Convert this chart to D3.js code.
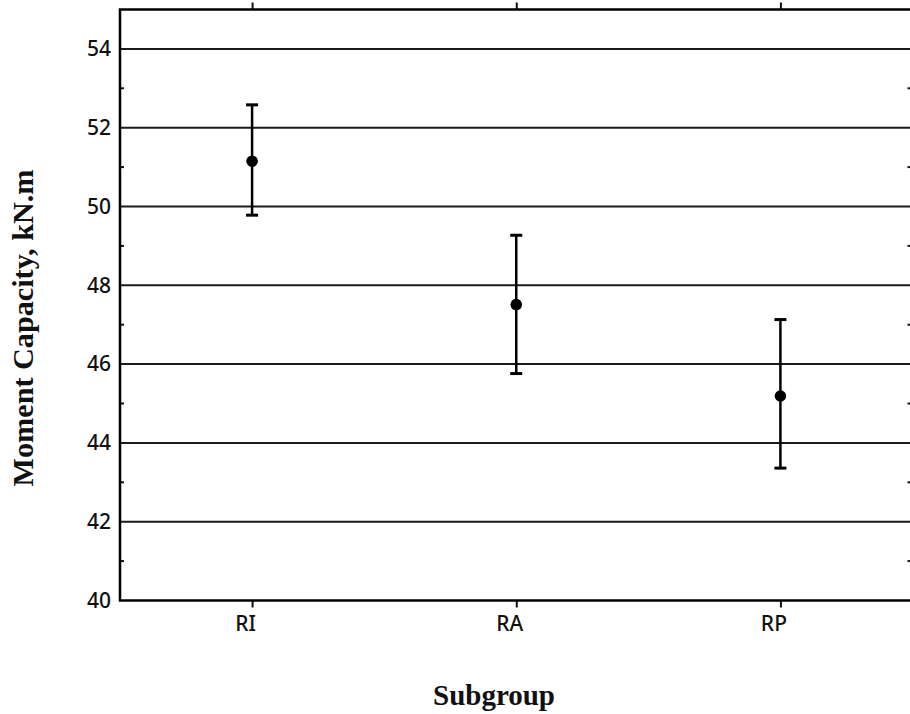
<!DOCTYPE html>
<html>
<head>
<meta charset="utf-8">
<script src="https://cdn.jsdelivr.net/npm/d3@7"></script>
<style>
  body { margin: 0; background: #fff; }
  svg { display: block; }
</style>
</head>
<body>
<script>
// data
var groups = ["RI", "RA", "RP"];
var means = [51.15, 47.51, 45.19];
var upper = [52.58, 49.27, 47.13];
var lower = [49.78, 45.76, 43.36];
var yTicks = [40, 42, 44, 46, 48, 50, 52, 54];
var yMinor = [41, 43, 45, 47, 49, 51, 53];

var width = 910;
var height = 714;
// plot frame (note: "top" is reserved on window, so use p* names)
var pLeft = 120, pRight = 912.5, pTop = 9.5, pBottom = 600.5;

var svg = d3.select("body").append("svg")
    .attr("width", width)
    .attr("height", height);

var x = d3.scalePoint()
    .domain(groups)
    .range([pLeft, pRight])
    .padding(0.5);

var y = d3.scaleLinear()
    .domain([40, 55])
    .range([pBottom, pTop]);

// grid lines
svg.append("g")
    .selectAll("line")
    .data(yTicks.filter(function(d){ return d > 40; }))
    .enter()
    .append("line")
    .attr("x1", pLeft)
    .attr("x2", pRight)
    .attr("y1", function(d){ return y(d); })
    .attr("y2", function(d){ return y(d); })
    .attr("stroke", "#1a1a1a")
    .attr("stroke-width", 2);

// left axis
var yAxis = d3.axisLeft(y)
    .tickValues(yTicks)
    .tickSize(0)
    .tickPadding(9);
var gy = svg.append("g")
    .attr("transform", "translate(" + pLeft + ",0)")
    .call(yAxis);
gy.select(".domain").remove();
gy.selectAll("text")
    .attr("font-family", "'Noto Sans', sans-serif")
    .attr("font-size", 21)
    .attr("font-weight", 500)
    .attr("fill", "#111");

// minor ticks inside, left and right
svg.append("g")
    .selectAll("line")
    .data(yMinor)
    .enter()
    .append("line")
    .attr("x1", pLeft)
    .attr("x2", pLeft + 4)
    .attr("y1", function(d){ return y(d); })
    .attr("y2", function(d){ return y(d); })
    .attr("stroke", "#111")
    .attr("stroke-width", 2);
svg.append("g")
    .selectAll("line")
    .data(yMinor)
    .enter()
    .append("line")
    .attr("x1", pRight - 5)
    .attr("x2", pRight)
    .attr("y1", function(d){ return y(d); })
    .attr("y2", function(d){ return y(d); })
    .attr("stroke", "#111")
    .attr("stroke-width", 2);

// bottom axis
var xAxis = d3.axisBottom(x)
    .tickSize(7)
    .tickPadding(9);
var gx = svg.append("g")
    .attr("transform", "translate(0," + pBottom + ")")
    .call(xAxis);
gx.select(".domain").remove();
gx.selectAll("line").attr("stroke", "#111").attr("stroke-width", 2);
gx.selectAll("text")
    .attr("font-family", "'Noto Sans', sans-serif")
    .attr("font-size", 21)
    .attr("font-weight", 500)
    .attr("dx", -7)
    .attr("fill", "#111");

// top ticks
var gt = svg.append("g")
    .attr("transform", "translate(0," + pTop + ")")
    .call(d3.axisTop(x).tickSize(7).tickFormat(""));
gt.select(".domain").remove();
gt.selectAll("line").attr("stroke", "#111").attr("stroke-width", 2);

// frame
svg.append("rect")
    .attr("x", pLeft)
    .attr("y", pTop)
    .attr("width", pRight - pLeft)
    .attr("height", pBottom - pTop)
    .attr("fill", "none")
    .attr("stroke", "#000")
    .attr("stroke-width", 2.5);

// error bars
var bars = svg.append("g");
groups.forEach(function(g, i){
    var cx = x(g);
    bars.append("line")
        .attr("x1", cx).attr("x2", cx)
        .attr("y1", y(upper[i])).attr("y2", y(lower[i]))
        .attr("stroke", "#000").attr("stroke-width", 2.5);
    bars.append("line")
        .attr("x1", cx - 6).attr("x2", cx + 6)
        .attr("y1", y(upper[i])).attr("y2", y(upper[i]))
        .attr("stroke", "#000").attr("stroke-width", 3);
    bars.append("line")
        .attr("x1", cx - 6).attr("x2", cx + 6)
        .attr("y1", y(lower[i])).attr("y2", y(lower[i]))
        .attr("stroke", "#000").attr("stroke-width", 3);
});

svg.append("g")
    .selectAll("circle")
    .data(means)
    .enter()
    .append("circle")
    .attr("cx", function(d, i){ return x(groups[i]); })
    .attr("cy", function(d){ return y(d); })
    .attr("r", 5.8)
    .attr("fill", "#000");

// axis titles
svg.append("text")
    .attr("transform", "translate(33," + 328 + ") rotate(-90)")
    .attr("text-anchor", "middle")
    .attr("font-family", "'Liberation Serif', 'Times New Roman', serif")
    .attr("font-weight", "bold")
    .attr("font-size", 29)
    .attr("textLength", 317)
    .attr("lengthAdjust", "spacingAndGlyphs")
    .attr("fill", "#111")
    .text("Moment Capacity, kN.m");

svg.append("text")
    .attr("x", 494)
    .attr("y", 705)
    .attr("text-anchor", "middle")
    .attr("font-family", "'Liberation Serif', 'Times New Roman', serif")
    .attr("font-weight", "bold")
    .attr("font-size", 29)
    .attr("fill", "#111")
    .text("Subgroup");
</script>
</body>
</html>
